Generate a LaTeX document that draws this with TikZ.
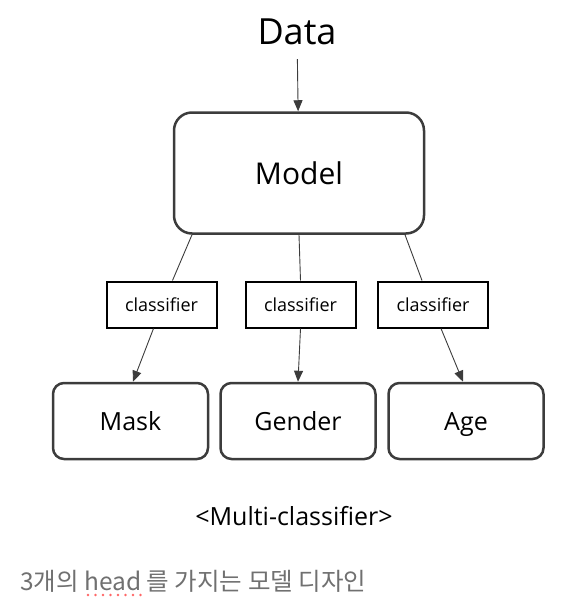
\documentclass[tikz,border=0pt]{standalone}
\usepackage{fontspec}
\setmainfont{Open Sans}
\newfontfamily\krfont{Noto Sans CJK KR}
\usetikzlibrary{arrows.meta}
\definecolor{boxline}{HTML}{3C3C3C}
\definecolor{capgray}{HTML}{707070}
\tikzset{
  modelbox/.style={draw=boxline, line width=2.5pt, rounded corners=18pt, minimum width=250pt, minimum height=121pt, font=\fontsize{30}{34}\selectfont},
  clsbox/.style={draw=black, line width=2pt, minimum width=110pt, minimum height=46pt, font=\fontsize{18}{21}\selectfont},
  outbox/.style={draw=boxline, line width=2.5pt, rounded corners=11pt, minimum width=155pt, minimum height=76pt, text height=18pt, text depth=0pt, font=\fontsize{25}{30}\selectfont},
  link/.style={draw=boxline, line width=0.9pt}
}
\begin{document}
\begin{tikzpicture}[x=1pt,y=-1pt,>={Triangle[length=11pt,width=9pt]}]
      \useasboundingbox (0,0) rectangle (584,608);
      % Draw the input and the model
      \node[font=\fontsize{36}{40}\selectfont, inner ysep=14pt] at (297,32) (data) {Data};
      \node[modelbox] at (299,173) (model) {Model};
      \draw[link,->] (data) -- (model);

      % Draw the three heads
      \node[clsbox] at (161.5,304.5) (cls1) {classifier};
      \node[clsbox] at (300.5,304.5) (cls2) {classifier};
      \node[clsbox] at (433,304.5) (cls3) {classifier};
      \draw[link] ([xshift=-107pt]model.south) -- ([xshift=11pt]cls1.north);
      \draw[link] (model.south) -- (cls2.north);
      \draw[link] ([xshift=106pt]model.south) -- ([xshift=-11pt]cls3.north);

      % Draw the outputs and arrows
      \node[outbox] at (130.5,421) (mask) {Mask};
      \node[outbox] at (298,421) (gender) {Gender};
      \node[outbox] at (466,421) (age) {Age};
      \draw[link,->] ([xshift=-8pt]cls1.south) -- ([xshift=2.5pt]mask.north);
      \draw[link,->] (cls2.south) -- (gender.north);
      \draw[link,->] ([xshift=8pt]cls3.south) -- ([xshift=-3pt]age.north);

      % Caption under the picture
      \node[font=\fontsize{25}{30}\selectfont] at (294,516) (caption) {<Multi-classifier>};
      \node[anchor=base west, inner sep=0pt, text=capgray, font=\krfont\fontsize{24.5}{29}\selectfont] at (20,590) (note) {3개의 head 를 가지는 모델 디자인};
      \foreach \x in {88,95.5,...,141} \fill[red!60] (\x,595) circle (1.3pt);
\end{tikzpicture}
\end{document}
